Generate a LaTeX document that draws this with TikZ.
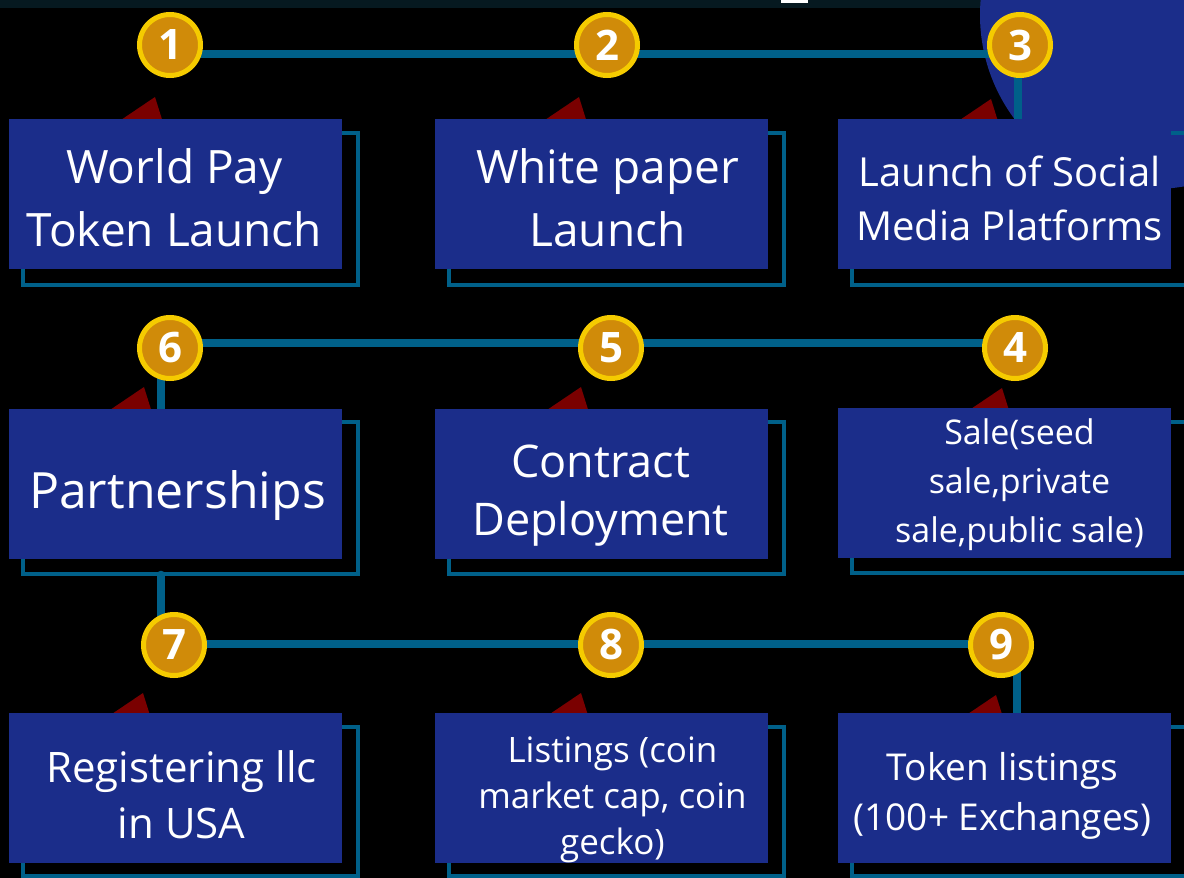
\documentclass[tikz,border=0pt]{standalone}
\usepackage{fontspec}
\setmainfont{Open Sans}
\usepackage{tikz}
\usetikzlibrary{positioning,backgrounds,calc}
\definecolor{boxblue}{RGB}{27,45,138}
\definecolor{linkteal}{RGB}{0,96,137}
\definecolor{coingold}{RGB}{208,139,9}
\definecolor{coinring}{RGB}{245,203,0}
\definecolor{flagred}{RGB}{122,0,0}
\definecolor{topstrip}{RGB}{6,25,32}
\tikzstyle{stepbox} = [rectangle, minimum width=333pt, minimum height=150pt, inner sep=0pt, fill=boxblue]
\tikzstyle{steptext} = [inner sep=0pt, text=white, align=center]
\tikzstyle{badge} = [circle, minimum size=61pt, inner sep=0pt, fill=coingold, draw=coinring, line width=5pt, text=white, font=\bfseries\fontsize{42}{42}\selectfont]
\tikzstyle{boxframe} = [draw=linkteal, line width=4pt]
\tikzstyle{link} = [draw=linkteal, line width=8pt, line cap=round]
\tikzstyle{flag} = [fill=flagred]

\begin{document}
\begin{tikzpicture}[x=1pt, y=-1pt]
\useasboundingbox (0,0) rectangle (1184,878);

% Row 1
\node (token) [stepbox] at (175.5,194) {};
\node (paper) [stepbox] at (601.5,194) {};
\node (social) [stepbox] at (1004.5,194) {};
\node (n1) [badge] at (170,45) {1};
\node (n2) [badge] at (607,45) {2};
\node (n3) [badge] at (1020,45) {3};

% Row 2
\node (partner) [stepbox] at (175.5,483.5) {};
\node (contract) [stepbox] at (601.5,483.5) {};
\node (sale) [stepbox] at (1004.5,483) {};
\node (n6) [badge] at (170,348) {6};
\node (n5) [badge] at (611,348) {5};
\node (n4) [badge] at (1015,348) {4};

% Row 3
\node (llc) [stepbox] at (175.5,788) {};
\node (listing) [stepbox] at (601.5,788) {};
\node (exchange) [stepbox] at (1004.5,788) {};
\node (n7) [badge] at (174,645) {7};
\node (n8) [badge] at (611,645) {8};
\node (n9) [badge] at (1001,645) {9};

% Texts in the boxes
\node (tokentext) [steptext, font=\fontsize{46}{63}\selectfont] at ([shift={(-1,4)}]token.center) {World Pay\\Token Launch};
\node (papertext) [steptext, font=\fontsize{46}{63}\selectfont] at ([shift={(6,4)}]paper.center) {White paper\\Launch};
\node (socialtext) [steptext, font=\fontsize{40}{54}\selectfont] at ([shift={(5,4)}]social.center) {Launch of Social\\Media Platforms};
\node (partnertext) [steptext, font=\fontsize{50}{60}\selectfont] at ([shift={(2,12)}]partner.center) {Partnerships};
\node (contracttext) [steptext, font=\fontsize{45}{58}\selectfont] at ([shift={(-1,12)}]contract.center) {Contract\\Deployment};
\node (saletext) [steptext, font=\fontsize{34}{49}\selectfont] at ([shift={(15,2)}]sale.center) {Sale(seed\\sale,private\\sale,public sale)};
\node (llctext) [steptext, font=\fontsize{42}{56}\selectfont] at ([shift={(6,7)}]llc.center) {Registering llc\\in USA};
\node (listingtext) [steptext, font=\fontsize{35}{46}\selectfont] at ([shift={(11,12)}]listing.center) {Listings (coin\\market cap, coin\\gecko)};
\node (exchangetext) [steptext, font=\fontsize{37}{50}\selectfont] at ([shift={(-2,8)}]exchange.center) {Token listings\\(100+ Exchanges)};

% Coordinates for the vertical links
\coordinate (v3) at ([shift={(-2,0)}]n3.center);
\coordinate (v6) at ([shift={(-9,0)}]n6.center);
\coordinate (v7) at ([shift={(-13,0)}]n7.center);
\coordinate (v9) at ([shift={(16,0)}]n9.center);
\coordinate (pfoot) at ([shift={(0,16)}]partner.south);

\begin{scope}[on background layer]
% Background
\fill[black] (0,0) rectangle (1184,878);
\fill[topstrip] (0,0) rectangle (1184,8);
\fill[white] (781,0) rectangle (808,3);
\fill[boxblue] (1154,15) circle [radius=174pt];

% Frames behind the boxes
\draw[boxframe] ([shift={(14,14)}]token.north west) rectangle ([shift={(16,16)}]token.south east);
\draw[boxframe] ([shift={(14,14)}]paper.north west) rectangle ([shift={(16,16)}]paper.south east);
\draw[boxframe] ([shift={(14,14)}]social.north west) rectangle ([shift={(16,16)}]social.south east);
\draw[boxframe] ([shift={(14,14)}]partner.north west) rectangle ([shift={(16,15)}]partner.south east);
\draw[boxframe] ([shift={(14,14)}]contract.north west) rectangle ([shift={(16,15)}]contract.south east);
\draw[boxframe] ([shift={(14,14)}]sale.north west) rectangle ([shift={(16,15)}]sale.south east);
\draw[boxframe] ([shift={(14,14)}]llc.north west) rectangle ([shift={(16,13)}]llc.south east);
\draw[boxframe] ([shift={(14,14)}]listing.north west) rectangle ([shift={(16,13)}]listing.south east);
\draw[boxframe] ([shift={(14,14)}]exchange.north west) rectangle ([shift={(16,13)}]exchange.south east);

% Red flags
\fill[flag] (155,97) -- ++(-40,27) -- ++(50,5) -- cycle;
\fill[flag] (579,97) -- ++(-40,27) -- ++(50,5) -- cycle;
\fill[flag] (991,99) -- ++(-40,27) -- ++(50,5) -- cycle;
\fill[flag] (144,387) -- ++(-40,27) -- ++(50,5) -- cycle;
\fill[flag] (581,387) -- ++(-40,27) -- ++(50,5) -- cycle;
\fill[flag] (1002,388) -- ++(-40,27) -- ++(50,5) -- cycle;
\fill[flag] (143,693) -- ++(-40,27) -- ++(50,5) -- cycle;
\fill[flag] (581,693) -- ++(-40,27) -- ++(50,5) -- cycle;
\fill[flag] (996,695) -- ++(-40,27) -- ++(50,5) -- cycle;

% Links
\draw[link] ([shift={(0,9)}]n1.center) -- ([shift={(0,9)}]n3.center);
\draw[link] ([shift={(0,-5)}]n6.center) -- ([shift={(0,-5)}]n4.center);
\draw[link] ([shift={(0,-1)}]n7.center) -- ([shift={(0,-1)}]n9.center);
\draw[link] (v3) -- (v3 |- social.north);
\draw[link] (v6) -- (v6 |- partner.north);
\draw[link] (v7) -- (v7 |- pfoot);
\draw[link] (v9) -- (v9 |- exchange.north);
\end{scope}

\end{tikzpicture}
\end{document}
